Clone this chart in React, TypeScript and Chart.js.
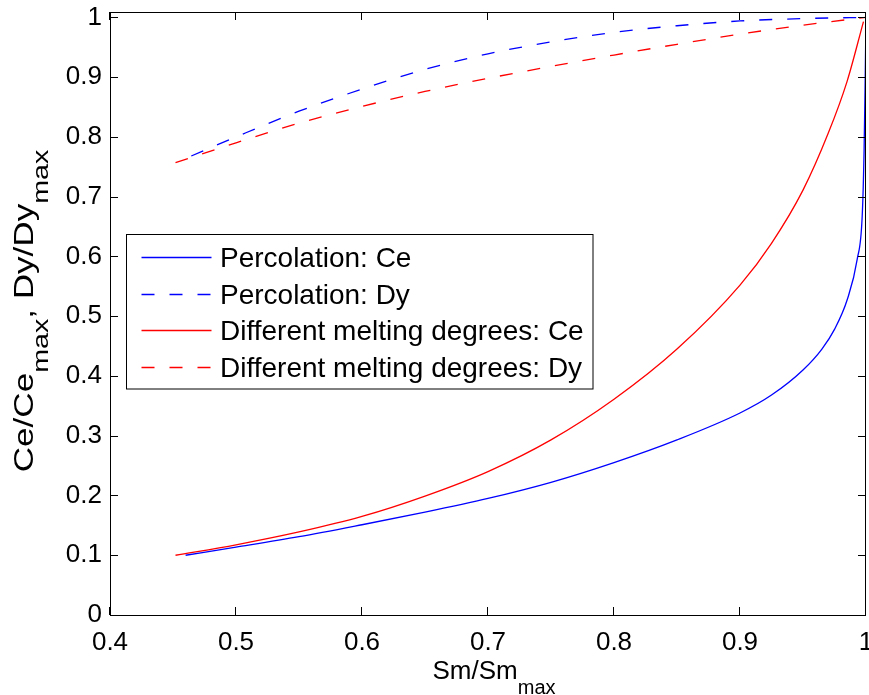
import React, { useEffect, useRef } from "react";
import { Chart, registerables } from "chart.js";

Chart.register(...registerables);

// ---- data ----
const percCeX = [0.46, 0.5, 0.55, 0.6, 0.65, 0.7, 0.75, 0.8, 0.85, 0.9, 0.925, 0.95, 0.965, 0.975, 0.985, 0.993, 0.997, 0.9985, 0.9993, 1.0];
const percCeY = [0.1, 0.1135, 0.131, 0.151, 0.172, 0.195, 0.222, 0.255, 0.293, 0.338, 0.368, 0.41, 0.445, 0.478, 0.527, 0.595, 0.668, 0.778, 0.887, 1.0];

const percDyX = [0.4645, 0.5, 0.55, 0.6, 0.65, 0.7, 0.75, 0.8, 0.85, 0.9, 0.95, 1.0];
const percDyY = [0.768, 0.8, 0.843, 0.88, 0.913, 0.939, 0.959, 0.975, 0.986, 0.994, 0.998, 1.0];

const meltCeX = [0.452, 0.5, 0.55, 0.6, 0.65, 0.7, 0.75, 0.8, 0.85, 0.9, 0.925, 0.95, 0.97, 0.985, 0.998];
const meltCeY = [0.1, 0.1175, 0.139, 0.165, 0.199, 0.24, 0.293, 0.361, 0.445, 0.552, 0.622, 0.711, 0.806, 0.893, 0.993];

const meltDyX = [0.452, 0.5, 0.55, 0.6, 0.65, 0.7, 0.75, 0.8, 0.85, 0.9, 0.95, 1.0];
const meltDyY = [0.757, 0.79, 0.823, 0.851, 0.876, 0.898, 0.918, 0.937, 0.955, 0.972, 0.987, 1.0];

const seriesLabels = [
  "Percolation: Ce",
  "Percolation: Dy",
  "Different melting degrees: Ce",
  "Different melting degrees: Dy",
];

const xTickValues = [0.4, 0.5, 0.6, 0.7, 0.8, 0.9, 1.0];
const yTickValues = [0, 0.1, 0.2, 0.3, 0.4, 0.5, 0.6, 0.7, 0.8, 0.9, 1.0];

const xTitleMain = "Sm/Sm";
const xTitleSub = "max";
const yTitleParts: [string, boolean][] = [
  ["Ce/Ce", false],
  ["max", true],
  [", Dy/Dy", false],
  ["max", true],
];

const X_MIN = 0.4;
const X_MAX = 1.0;
const Y_MIN = 0;
const Y_MAX = 1.009;

const FONT = '"Liberation Sans", Arial, Helvetica, sans-serif';
const BLUE = "#0000ff";
const RED = "#ff0000";
const DASH = [13, 15];

function toPoints(xs: number[], ys: number[]) {
  return xs.map((x, i) => ({ x, y: ys[i] }));
}

function fmt(v: number) {
  return String(Number(Number(v).toFixed(1)));
}

export default function App() {
  const ref = useRef<HTMLCanvasElement>(null);

  useEffect(() => {
    document.body.style.margin = "0";
    const canvas = ref.current!;

    const framePlugin = {
      id: "matlabFrame",
      afterDatasetsDraw(chart: any) {
        const { ctx, chartArea: a, scales } = chart;
        const TL = 8;
        ctx.save();
        ctx.strokeStyle = "#000";
        ctx.lineWidth = 1;
        ctx.setLineDash([]);
        ctx.beginPath();
        scales.x.ticks.forEach((t: any) => {
          const px = Math.round(scales.x.getPixelForValue(t.value)) - 0.5;
          ctx.moveTo(px, a.bottom);
          ctx.lineTo(px, a.bottom - TL);
          ctx.moveTo(px, a.top);
          ctx.lineTo(px, a.top + TL);
        });
        scales.y.ticks.forEach((t: any) => {
          const py = Math.round(scales.y.getPixelForValue(t.value)) + 0.5;
          ctx.moveTo(a.left, py);
          ctx.lineTo(a.left + TL, py);
          ctx.moveTo(a.right, py);
          ctx.lineTo(a.right - TL, py);
        });
        ctx.stroke();
        ctx.strokeRect(a.left + 0.5, a.top + 0.5, a.right - a.left - 1, a.bottom - a.top);

        // legend
        const bx = a.left + 16.5;
        const by = a.top + 222.5;
        const bw = 466.5;
        const bh = 154.5;
        ctx.fillStyle = "#fff";
        ctx.fillRect(bx, by, bw, bh);
        ctx.strokeRect(bx, by, bw, bh);
        ctx.font = `28px ${FONT}`;
        ctx.textAlign = "left";
        ctx.textBaseline = "alphabetic";
        chart.data.datasets.forEach((ds: any, i: number) => {
          const base = by + 32.5 + i * 36.67;
          const ly = Math.round(base - 10) + 0.5;
          ctx.save();
          ctx.strokeStyle = ds.borderColor;
          ctx.lineWidth = ds.borderWidth;
          ctx.setLineDash(ds.borderDash || []);
          ctx.beginPath();
          ctx.moveTo(bx + 15, ly);
          ctx.lineTo(bx + 85, ly);
          ctx.stroke();
          ctx.restore();
          ctx.fillStyle = "#000";
          ctx.fillText(ds.label, bx + 93.5, base);
        });
        ctx.restore();
      },
      afterDraw(chart: any) {
        const { ctx, chartArea: a } = chart;
        ctx.save();
        ctx.fillStyle = "#000";
        ctx.textAlign = "left";
        ctx.textBaseline = "alphabetic";
        const SUB = 15;
        // x title
        const xMainF = `26px ${FONT}`;
        const xSubF = `20px ${FONT}`;
        ctx.font = xMainF;
        const wMain = ctx.measureText(xTitleMain).width;
        ctx.font = xSubF;
        const wSub = ctx.measureText(xTitleSub).width;
        const cx = (a.left + a.right) / 2 + 6;
        const x0 = cx - (wMain + wSub) / 2;
        ctx.font = xMainF;
        ctx.fillText(xTitleMain, x0, 678.5);
        ctx.font = xSubF;
        ctx.fillText(xTitleSub, x0 + wMain, 678.5 + SUB);

        // y title (rotated)
        const yMainF = `27px ${FONT}`;
        const ySubF = `22px ${FONT}`;
        const stretch = 1.3;
        let total = 0;
        yTitleParts.forEach(([t, sub]) => {
          ctx.font = sub ? ySubF : yMainF;
          total += ctx.measureText(t).width;
        });
        const cy = 311;
        ctx.translate(33, cy);
        ctx.rotate(-Math.PI / 2);
        ctx.scale(stretch, 1);
        let pos = -total / 2;
        yTitleParts.forEach(([t, sub]) => {
          ctx.font = sub ? ySubF : yMainF;
          ctx.fillText(t, pos, sub ? SUB : 0);
          pos += ctx.measureText(t).width;
        });
        ctx.restore();
      },
    };

    const tickFont = { family: FONT, size: 26 };

    const chart = new Chart(canvas, {
      type: "line",
      data: {
        datasets: [
          { label: seriesLabels[0], data: toPoints(percCeX, percCeY), borderColor: BLUE, borderWidth: 1.3 },
          { label: seriesLabels[1], data: toPoints(percDyX, percDyY), borderColor: BLUE, borderWidth: 1.3, borderDash: DASH },
          { label: seriesLabels[2], data: toPoints(meltCeX, meltCeY), borderColor: RED, borderWidth: 1.3 },
          { label: seriesLabels[3], data: toPoints(meltDyX, meltDyY), borderColor: RED, borderWidth: 1.3, borderDash: DASH },
        ],
      },
      options: {
        responsive: false,
        animation: false,
        events: [],
        layout: { autoPadding: false, padding: { top: 12, right: 3, bottom: 0, left: 0 } },
        elements: {
          point: { radius: 0 },
          line: { cubicInterpolationMode: "monotone", fill: false },
        },
        plugins: {
          legend: { display: false },
          tooltip: { enabled: false },
        },
        scales: {
          x: {
            type: "linear",
            min: X_MIN,
            max: X_MAX,
            grid: { display: false, drawTicks: false },
            border: { display: false },
            afterBuildTicks(s: any) {
              s.ticks = xTickValues.map((v) => ({ value: v }));
            },
            ticks: {
              color: "#000",
              font: tickFont,
              padding: 12,
              maxRotation: 0,
              autoSkip: false,
              callback: (v: any) => fmt(v),
            },
            afterFit(s: any) {
              s.height = 80;
              s.paddingLeft = 0;
              s.paddingRight = 0;
            },
          },
          y: {
            type: "linear",
            min: Y_MIN,
            max: Y_MAX,
            grid: { display: false, drawTicks: false },
            border: { display: false },
            afterBuildTicks(s: any) {
              s.ticks = yTickValues.map((v) => ({ value: v }));
            },
            ticks: {
              color: "#000",
              font: tickFont,
              padding: 8,
              autoSkip: false,
              callback: (v: any) => fmt(v),
            },
            afterFit(s: any) {
              s.width = 110;
              s.paddingTop = 0;
              s.paddingBottom = 0;
            },
          },
        },
      },
      plugins: [framePlugin],
    } as any);

    return () => chart.destroy();
  }, []);

  return (
    <div style={{ width: 869, height: 695, background: "#fff" }}>
      <canvas ref={ref} width={869} height={695} style={{ display: "block" }} />
    </div>
  );
}
